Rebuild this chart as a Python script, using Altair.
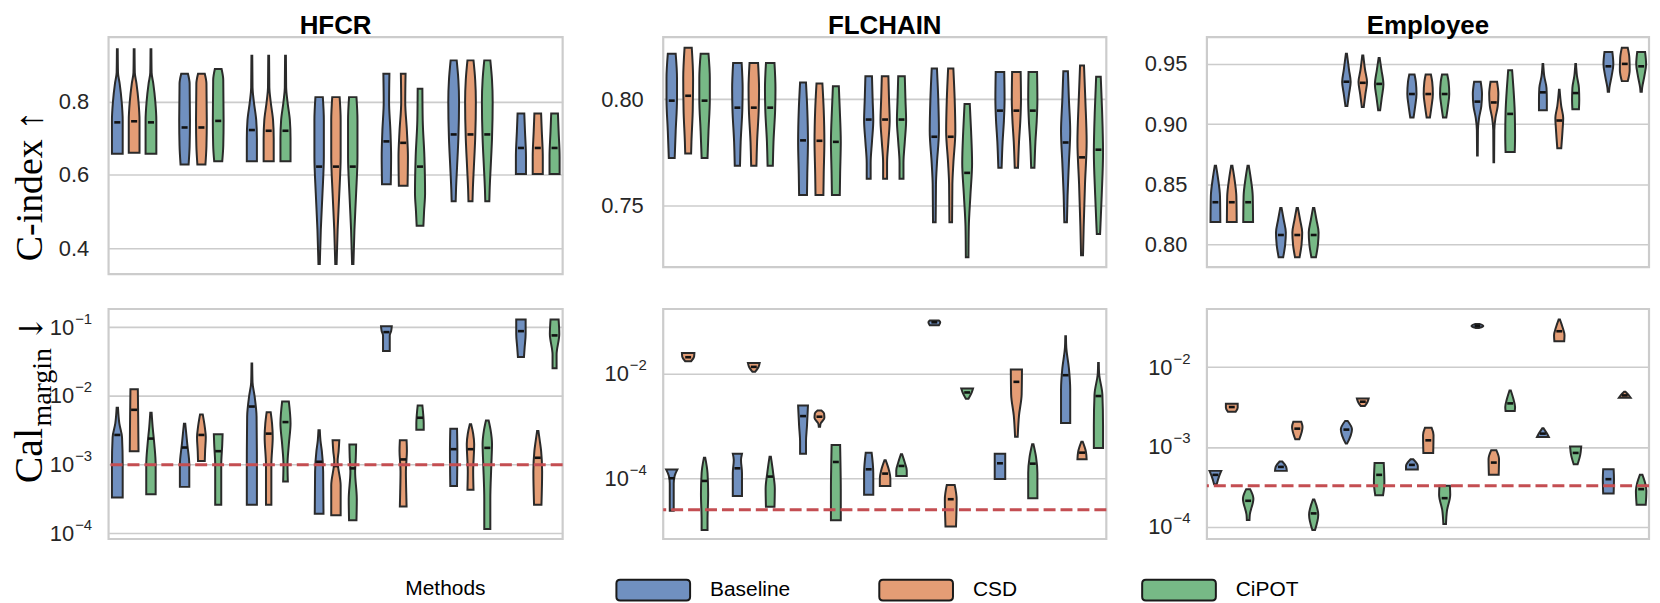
import altair as alt
import pandas as pd

METHODS = ["Baseline", "CSD", "CiPOT"]
COLORS = ["#7090C0", "#E49D75", "#77B986"]
DATASETS = ["HFCR", "FLCHAIN", "Employee"]

# Each violin outline: (value, half-width in group units) from top to bottom.
# Groups (7 per panel) x methods (Baseline, CSD, CiPOT).

# ---------------- C-index (top row) ----------------
HFCR_CINDEX = [
    [[(0.944, 0.006), (0.88, 0.01), (0.85, 0.035), (0.80, 0.065), (0.75, 0.08), (0.658, 0.08)],
     [(0.944, 0.006), (0.88, 0.01), (0.85, 0.035), (0.80, 0.065), (0.75, 0.08), (0.661, 0.08)],
     [(0.944, 0.006), (0.88, 0.01), (0.85, 0.035), (0.80, 0.065), (0.75, 0.08), (0.658, 0.08)]],
    [[(0.877, 0.05), (0.85, 0.075), (0.75, 0.08), (0.68, 0.075), (0.629, 0.06)],
     [(0.877, 0.05), (0.85, 0.075), (0.75, 0.08), (0.68, 0.075), (0.629, 0.06)],
     [(0.890, 0.05), (0.86, 0.075), (0.75, 0.08), (0.68, 0.075), (0.638, 0.06)]],
    [[(0.926, 0.006), (0.84, 0.01), (0.80, 0.03), (0.75, 0.065), (0.70, 0.075), (0.638, 0.075)],
     [(0.926, 0.006), (0.84, 0.01), (0.80, 0.03), (0.75, 0.065), (0.70, 0.075), (0.638, 0.075)],
     [(0.926, 0.006), (0.84, 0.01), (0.80, 0.03), (0.75, 0.065), (0.70, 0.075), (0.638, 0.075)]],
    [[(0.813, 0.055), (0.75, 0.07), (0.65, 0.07), (0.55, 0.05), (0.45, 0.025), (0.357, 0.01)],
     [(0.813, 0.055), (0.75, 0.07), (0.65, 0.07), (0.55, 0.05), (0.45, 0.025), (0.357, 0.01)],
     [(0.813, 0.055), (0.75, 0.07), (0.65, 0.07), (0.55, 0.05), (0.45, 0.025), (0.357, 0.01)]],
    [[(0.877, 0.045), (0.80, 0.04), (0.72, 0.06), (0.65, 0.07), (0.575, 0.065)],
     [(0.877, 0.035), (0.80, 0.03), (0.72, 0.055), (0.65, 0.07), (0.571, 0.065)],
     [(0.836, 0.035), (0.75, 0.04), (0.65, 0.065), (0.55, 0.075), (0.50, 0.06), (0.461, 0.05)]],
    [[(0.9135, 0.045), (0.86, 0.07), (0.80, 0.08), (0.70, 0.07), (0.62, 0.05), (0.56, 0.035), (0.528, 0.03)],
     [(0.9135, 0.045), (0.86, 0.07), (0.80, 0.08), (0.70, 0.07), (0.62, 0.05), (0.56, 0.035), (0.528, 0.03)],
     [(0.9135, 0.045), (0.86, 0.07), (0.80, 0.08), (0.70, 0.07), (0.62, 0.05), (0.56, 0.035), (0.528, 0.03)]],
    [[(0.768, 0.05), (0.72, 0.06), (0.65, 0.075), (0.603, 0.075)],
     [(0.768, 0.05), (0.72, 0.06), (0.65, 0.075), (0.603, 0.075)],
     [(0.768, 0.05), (0.72, 0.06), (0.65, 0.075), (0.603, 0.075)]],
]
HFCR_CINDEX_MEDIAN = [[0.744, 0.747, 0.744], [0.730, 0.730, 0.748], [0.723, 0.721, 0.721],
                      [0.623, 0.623, 0.623], [0.692, 0.688, 0.623], [0.711, 0.711, 0.711],
                      [0.674, 0.674, 0.674]]

FLCHAIN_CINDEX = [
    [[(0.8215, 0.06), (0.81, 0.08), (0.80, 0.08), (0.785, 0.06), (0.7724, 0.045)],
     [(0.8243, 0.055), (0.81, 0.075), (0.795, 0.07), (0.78, 0.05), (0.7745, 0.045)],
     [(0.8215, 0.06), (0.81, 0.08), (0.80, 0.08), (0.785, 0.06), (0.7724, 0.045)]],
    [[(0.8171, 0.065), (0.805, 0.08), (0.795, 0.075), (0.78, 0.05), (0.7687, 0.04)],
     [(0.8171, 0.065), (0.805, 0.08), (0.795, 0.075), (0.78, 0.05), (0.7687, 0.04)],
     [(0.8171, 0.065), (0.805, 0.08), (0.795, 0.075), (0.78, 0.05), (0.7687, 0.04)]],
    [[(0.8079, 0.045), (0.795, 0.065), (0.78, 0.075), (0.765, 0.065), (0.755, 0.06)],
     [(0.8075, 0.045), (0.795, 0.065), (0.78, 0.075), (0.765, 0.065), (0.755, 0.06)],
     [(0.8062, 0.045), (0.795, 0.06), (0.78, 0.075), (0.765, 0.065), (0.755, 0.06)]],
    [[(0.8109, 0.05), (0.80, 0.06), (0.79, 0.07), (0.78, 0.05), (0.77, 0.03), (0.7626, 0.03)],
     [(0.8109, 0.05), (0.80, 0.06), (0.79, 0.07), (0.78, 0.05), (0.77, 0.03), (0.7626, 0.03)],
     [(0.8109, 0.05), (0.80, 0.06), (0.79, 0.07), (0.78, 0.05), (0.77, 0.03), (0.7626, 0.03)]],
    [[(0.8145, 0.04), (0.80, 0.06), (0.785, 0.07), (0.77, 0.04), (0.76, 0.025), (0.7422, 0.02)],
     [(0.8145, 0.04), (0.80, 0.06), (0.785, 0.07), (0.77, 0.04), (0.76, 0.025), (0.7422, 0.02)],
     [(0.7978, 0.04), (0.785, 0.06), (0.77, 0.075), (0.755, 0.05), (0.74, 0.025), (0.7257, 0.02)]],
    [[(0.8129, 0.065), (0.80, 0.07), (0.79, 0.06), (0.78, 0.04), (0.7678, 0.025)],
     [(0.8129, 0.065), (0.80, 0.07), (0.79, 0.06), (0.78, 0.04), (0.7678, 0.025)],
     [(0.8129, 0.065), (0.80, 0.07), (0.79, 0.06), (0.78, 0.04), (0.7678, 0.025)]],
    [[(0.8132, 0.035), (0.80, 0.05), (0.785, 0.07), (0.77, 0.05), (0.755, 0.03), (0.7422, 0.02)],
     [(0.816, 0.03), (0.80, 0.05), (0.78, 0.07), (0.76, 0.045), (0.74, 0.025), (0.7266, 0.015)],
     [(0.8106, 0.035), (0.795, 0.055), (0.775, 0.07), (0.755, 0.05), (0.7366, 0.025)]],
]
FLCHAIN_CINDEX_MEDIAN = [[0.7994, 0.8017, 0.7994], [0.7961, 0.7961, 0.7961], [0.7807, 0.7805, 0.780],
                         [0.7905, 0.7905, 0.7905], [0.7824, 0.7824, 0.7654], [0.7947, 0.7947, 0.7947],
                         [0.7797, 0.7727, 0.7763]]

EMPLOYEE_CINDEX = [
    [[(0.8654, 0.01), (0.855, 0.04), (0.84, 0.07), (0.8187, 0.075)],
     [(0.8654, 0.01), (0.855, 0.04), (0.84, 0.07), (0.8187, 0.075)],
     [(0.8654, 0.01), (0.855, 0.04), (0.84, 0.07), (0.8187, 0.075)]],
    [[(0.8305, 0.01), (0.82, 0.045), (0.81, 0.075), (0.80, 0.065), (0.7896, 0.035)],
     [(0.8305, 0.01), (0.82, 0.045), (0.81, 0.075), (0.80, 0.065), (0.7896, 0.035)],
     [(0.8305, 0.01), (0.82, 0.045), (0.81, 0.075), (0.80, 0.065), (0.7896, 0.035)]],
    [[(0.9585, 0.008), (0.945, 0.04), (0.935, 0.065), (0.925, 0.04), (0.9151, 0.015)],
     [(0.957, 0.008), (0.945, 0.035), (0.935, 0.065), (0.925, 0.04), (0.9143, 0.015)],
     [(0.955, 0.008), (0.945, 0.035), (0.933, 0.065), (0.922, 0.04), (0.9115, 0.015)]],
    [[(0.9412, 0.04), (0.935, 0.06), (0.925, 0.07), (0.915, 0.05), (0.9055, 0.025)],
     [(0.9412, 0.04), (0.935, 0.06), (0.925, 0.07), (0.915, 0.05), (0.9055, 0.025)],
     [(0.9412, 0.04), (0.935, 0.06), (0.925, 0.07), (0.915, 0.05), (0.9055, 0.025)]],
    [[(0.9352, 0.05), (0.925, 0.07), (0.915, 0.06), (0.905, 0.025), (0.895, 0.008), (0.8739, 0.005)],
     [(0.9352, 0.05), (0.925, 0.07), (0.915, 0.06), (0.905, 0.025), (0.895, 0.008), (0.8684, 0.005)],
     [(0.9448, 0.03), (0.93, 0.05), (0.91, 0.07), (0.89, 0.075), (0.8769, 0.07)]],
    [[(0.95, 0.005), (0.94, 0.02), (0.93, 0.055), (0.92, 0.06), (0.9115, 0.06)],
     [(0.9286, 0.005), (0.915, 0.03), (0.905, 0.06), (0.895, 0.05), (0.88, 0.03)],
     [(0.95, 0.005), (0.94, 0.02), (0.93, 0.05), (0.92, 0.055), (0.9124, 0.05)]],
    [[(0.9599, 0.06), (0.95, 0.075), (0.94, 0.05), (0.93, 0.015), (0.9269, 0.01)],
     [(0.9635, 0.045), (0.955, 0.07), (0.945, 0.075), (0.9357, 0.045)],
     [(0.9599, 0.06), (0.95, 0.075), (0.94, 0.05), (0.93, 0.015), (0.9269, 0.01)]],
]
EMPLOYEE_CINDEX_MEDIAN = [[0.8352, 0.8352, 0.8352], [0.808, 0.808, 0.808], [0.9352, 0.9343, 0.9334],
                          [0.925, 0.925, 0.925], [0.9187, 0.918, 0.9085], [0.9264, 0.903, 0.9258],
                          [0.948, 0.95, 0.948]]

# ---------------- Cal_margin (bottom row), values given as log10 ----------------
HFCR_CAL_LOG10 = [
    [[(-2.173, 0.01), (-2.4, 0.03), (-2.6, 0.07), (-3.0, 0.08), (-3.476, 0.08)],
     [(-1.904, 0.055), (-2.3, 0.06), (-2.803, 0.065)],
     [(-2.245, 0.01), (-2.45, 0.025), (-2.7, 0.05), (-3.0, 0.07), (-3.428, 0.07)]],
    [[(-2.404, 0.01), (-2.55, 0.025), (-2.7, 0.04), (-3.0, 0.07), (-3.322, 0.07)],
     [(-2.269, 0.02), (-2.45, 0.05), (-2.6, 0.065), (-2.8, 0.055), (-2.947, 0.05)],
     [(-2.558, 0.065), (-2.7, 0.06), (-3.0, 0.045), (-3.582, 0.045)]],
    [[(-1.529, 0.005), (-1.8, 0.01), (-2.0, 0.04), (-2.3, 0.07), (-3.0, 0.075), (-3.582, 0.075)],
     [(-2.236, 0.03), (-2.4, 0.05), (-2.6, 0.06), (-3.0, 0.04), (-3.582, 0.04)],
     [(-2.082, 0.05), (-2.4, 0.075), (-2.7, 0.05), (-3.0, 0.03), (-3.245, 0.035)]],
    [[(-2.5, 0.01), (-2.65, 0.02), (-2.8, 0.04), (-3.1, 0.06), (-3.712, 0.065)],
     [(-2.644, 0.05), (-2.8, 0.04), (-2.95, 0.025), (-3.3, 0.07), (-3.736, 0.07)],
     [(-2.707, 0.05), (-2.9, 0.045), (-3.1, 0.035), (-3.5, 0.06), (-3.808, 0.055)]],
    [[(-0.986, 0.08), (-1.06, 0.07), (-1.12, 0.05), (-1.346, 0.05)],
     [(-2.644, 0.05), (-2.8, 0.055), (-3.1, 0.04), (-3.4, 0.045), (-3.606, 0.05)],
     [(-2.139, 0.035), (-2.3, 0.05), (-2.4, 0.055), (-2.49, 0.055)]],
    [[(-2.476, 0.05), (-2.8, 0.055), (-3.308, 0.05)],
     [(-2.413, 0.01), (-2.55, 0.04), (-2.7, 0.055), (-3.1, 0.04), (-3.365, 0.045)],
     [(-2.356, 0.02), (-2.5, 0.05), (-2.7, 0.07), (-3.0, 0.06), (-3.5, 0.045), (-3.933, 0.045)]],
    [[(-0.889, 0.07), (-1.1, 0.07), (-1.3, 0.055), (-1.433, 0.045)],
     [(-2.51, 0.01), (-2.65, 0.03), (-2.8, 0.05), (-3.1, 0.065), (-3.582, 0.055)],
     [(-0.889, 0.06), (-1.1, 0.07), (-1.4, 0.03), (-1.596, 0.03)]],
]
HFCR_CAL_MEDIAN_LOG10 = [[-2.567, -2.202, -2.62], [-2.75, -2.567, -2.803], [-2.154, -2.548, -2.38],
                         [-2.957, -3.019, -3.053], [-1.072, -2.923, -2.317], [-2.774, -2.774, -2.755],
                         [-1.058, -2.899, -1.12]]

FLCHAIN_CAL_LOG10 = [
    [[(-3.835, 0.085), (-3.95, 0.045), (-4.1, 0.03), (-4.622, 0.03)],
     [(-1.606, 0.095), (-1.68, 0.09), (-1.765, 0.045)],
     [(-3.606, 0.01), (-3.9, 0.045), (-4.3, 0.055), (-4.8, 0.045), (-4.99, 0.045)]],
    [[(-3.53, 0.07), (-3.65, 0.055), (-3.9, 0.07), (-4.337, 0.07)],
     [(-1.797, 0.09), (-1.88, 0.07), (-1.968, 0.02)],
     [(-3.587, 0.01), (-3.9, 0.045), (-4.2, 0.07), (-4.546, 0.065)]],
    [[(-2.61, 0.075), (-3.0, 0.06), (-3.3, 0.045), (-3.53, 0.045)],
     [(-2.705, 0.03), (-2.76, 0.07), (-2.85, 0.075), (-2.95, 0.02), (-3.016, 0.01)],
     [(-3.365, 0.065), (-3.7, 0.07), (-4.2, 0.075), (-4.8, 0.075)]],
    [[(-3.511, 0.045), (-3.9, 0.07), (-4.317, 0.07)],
     [(-3.657, 0.01), (-3.85, 0.06), (-4.0, 0.08), (-4.146, 0.08)],
     [(-3.543, 0.01), (-3.7, 0.05), (-3.85, 0.08), (-3.956, 0.08)]],
    [[(-0.99, 0.07), (-1.02, 0.09), (-1.079, 0.07)],
     [(-4.127, 0.06), (-4.4, 0.09), (-4.921, 0.08)],
     [(-2.286, 0.09), (-2.36, 0.07), (-2.483, 0.02)]],
    [[(-3.53, 0.08), (-3.7, 0.08), (-4.013, 0.08)],
     [(-1.924, 0.085), (-2.4, 0.08), (-2.8, 0.04), (-3.206, 0.02)],
     [(-3.352, 0.01), (-3.6, 0.05), (-3.9, 0.07), (-4.381, 0.07)]],
    [[(-1.289, 0.005), (-1.5, 0.01), (-1.9, 0.05), (-2.3, 0.07), (-2.946, 0.07)],
     [(-3.302, 0.01), (-3.5, 0.06), (-3.638, 0.07)],
     [(-1.8, 0.005), (-2.0, 0.01), (-2.4, 0.06), (-3.0, 0.07), (-3.42, 0.07)]],
]
FLCHAIN_CAL_MEDIAN_LOG10 = [[-4.0, -1.689, -4.051], [-3.81, -1.873, -3.968], [-2.813, -2.825, -3.689],
                            [-3.829, -3.911, -3.765], [-1.022, -4.4, -2.362], [-3.714, -2.159, -3.721],
                            [-2.032, -3.511, -2.43]]

EMPLOYEE_CAL_LOG10 = [
    [[(-3.3, 0.09), (-3.36, 0.06), (-3.467, 0.02)],
     [(-2.458, 0.09), (-2.51, 0.09), (-2.558, 0.06)],
     [(-3.529, 0.03), (-3.65, 0.08), (-3.85, 0.025), (-3.917, 0.02)]],
    [[(-3.183, 0.02), (-3.25, 0.08), (-3.3, 0.09)],
     [(-2.683, 0.06), (-2.75, 0.08), (-2.904, 0.03)],
     [(-3.658, 0.01), (-3.85, 0.07), (-4.042, 0.02)]],
    [[(-2.675, 0.02), (-2.78, 0.085), (-2.958, 0.01)],
     [(-2.392, 0.09), (-2.44, 0.07), (-2.488, 0.03)],
     [(-3.2, 0.07), (-3.45, 0.08), (-3.604, 0.06)]],
    [[(-3.154, 0.02), (-3.24, 0.09), (-3.283, 0.09)],
     [(-2.758, 0.05), (-2.85, 0.08), (-3.075, 0.075)],
     [(-3.4875, 0.08), (-3.6, 0.085), (-3.8, 0.035), (-3.967, 0.02)]],
    [[(-1.458, 0.03), (-1.483, 0.09), (-1.508, 0.03)],
     [(-3.042, 0.04), (-3.15, 0.08), (-3.35, 0.075)],
     [(-2.292, 0.01), (-2.4, 0.05), (-2.5, 0.075), (-2.55, 0.07)]],
    [[(-2.767, 0.01), (-2.83, 0.06), (-2.875, 0.09)],
     [(-1.404, 0.01), (-1.5, 0.05), (-1.6, 0.08), (-1.675, 0.075)],
     [(-2.996, 0.085), (-3.1, 0.07), (-3.217, 0.03)]],
    [[(-3.279, 0.08), (-3.4, 0.085), (-3.583, 0.08)],
     [(-2.308, 0.01), (-2.35, 0.06), (-2.383, 0.09)],
     [(-3.35, 0.02), (-3.45, 0.06), (-3.55, 0.08), (-3.725, 0.07)]],
]
EMPLOYEE_CAL_MEDIAN_LOG10 = [[-3.35, -2.5, -3.675], [-3.25, -2.771, -3.833], [-2.783, -2.433, -3.35],
                             [-3.225, -2.917, -3.642], [-1.483, -3.196, -2.454], [-2.833, -1.55, -3.075],
                             [-3.404, -2.354, -3.529]]

# Ideal calibration reference (dashed red line), log10
CAL_REFERENCE_LOG10 = {"HFCR": -3.0, "FLCHAIN": -4.603, "Employee": -3.4875}

CINDEX_TICKS = {"HFCR": [0.4, 0.6, 0.8], "FLCHAIN": [0.75, 0.80], "Employee": [0.80, 0.85, 0.90, 0.95]}
CAL_TICKS_LOG10 = {"HFCR": [-1, -2, -3, -4], "FLCHAIN": [-2, -4], "Employee": [-2, -3, -4]}

# axis ranges
CINDEX_DOMAIN = {"HFCR": [0.329, 0.977], "FLCHAIN": [0.721, 0.8293], "Employee": [0.7813, 0.9722]}
CAL_DOMAIN_LOG10 = {"HFCR": [-4.08, -0.736], "FLCHAIN": [-5.16, -0.768], "Employee": [-4.154, -1.271]}

WIDTHS = {"HFCR": 456, "FLCHAIN": 445, "Employee": 444}
TOP_HEIGHTS = {"HFCR": 238, "FLCHAIN": 231, "Employee": 231}
BOTTOM_HEIGHT = 231

LEGEND_PATH = ("M-0.9,-0.28L0.9,-0.28Q1,-0.28 1,-0.18L1,0.18Q1,0.28 0.9,0.28"
               "L-0.9,0.28Q-1,0.28 -1,0.18L-1,-0.18Q-1,-0.28 -0.9,-0.28Z")

LEGEND = alt.Legend(
    orient="none", legendX=298, legendY=517, direction="horizontal", columns=3,
    gridAlign="all", title="Methods", titleOrient="left", titleFontSize=21,
    titleFontWeight="normal", titleColor="#000000", titlePadding=130,
    titleBaseline="top",
    labelFontSize=21, labelColor="#000000", labelOffset=19, columnPadding=85,
    symbolType=LEGEND_PATH, symbolSize=5476, symbolStrokeColor="#1a1a1a",
    symbolStrokeWidth=2, symbolOpacity=1,
)

EXP_EXPR = ("datum.value > 0.05 ? '−1' : datum.value > 0.005 ? '−2' : "
            "datum.value > 0.0005 ? '−3' : '−4'")


def violin_frames(violins, medians, log):
    rows, mrows = [], []
    for g, trio in enumerate(violins):
        for m, knots in enumerate(trio):
            for v, w in knots:
                rows.append({"group": g, "mi": m, "method": METHODS[m],
                             "vid": f"{g}-{m}", "value": 10 ** v if log else v, "half": w})
            mv = medians[g][m]
            mrows.append({"group": g, "mi": m, "method": METHODS[m],
                          "median": 10 ** mv if log else mv})
    return pd.DataFrame(rows), pd.DataFrame(mrows)


def serif_text(txt, size, x, y, font="Liberation Serif"):
    return alt.Chart(pd.DataFrame({"t": [txt]})).mark_text(
        angle=270, align="left", baseline="alphabetic", font=font,
        fontSize=size, color="#000000").encode(text="t:N", x=alt.value(x), y=alt.value(y))


def panel(name, violins, medians, log, title=None):
    df, mdf = violin_frames(violins, medians, log)
    xscale = alt.Scale(domain=[-0.38, 6.37], nice=False, zero=False)
    if log:
        lo, hi = CAL_DOMAIN_LOG10[name]
        yscale = alt.Scale(type="log", domain=[10 ** lo, 10 ** hi], nice=False)
        ticks = [10 ** t for t in CAL_TICKS_LOG10[name]]
        # exponent labels (raised, small) next to the plot, base "10" to their left
        yaxis = alt.Axis(values=ticks, labelExpr=EXP_EXPR, title=None, orient="left",
                         labelFontSize=15, labelPadding=17, labelOffset=-9, grid=True)
        base_axis = alt.Axis(values=ticks, labelExpr="'10'", title=None, orient="left",
                             labelFontSize=22, labelPadding=35, grid=False)
        height = BOTTOM_HEIGHT
    else:
        yscale = alt.Scale(domain=CINDEX_DOMAIN[name], nice=False, zero=False)
        fmt = ".1f" if name == "HFCR" else ".2f"
        yaxis = alt.Axis(values=CINDEX_TICKS[name], format=fmt, title=None)
        base_axis = None
        height = TOP_HEIGHTS[name]

    color = alt.Color("method:N", scale=alt.Scale(domain=METHODS, range=COLORS), legend=LEGEND)

    area = alt.Chart(df).transform_calculate(
        c="datum.group + (datum.mi - 1) * 0.25",
        xl="datum.c - datum.half",
        xr="datum.c + datum.half",
    ).mark_area(orient="horizontal", interpolate="monotone", stroke="#2a2a2a",
                strokeWidth=2, fillOpacity=1).encode(
        x=alt.X("xl:Q", scale=xscale, axis=None),
        x2="xr:Q",
        y=alt.Y("value:Q", scale=yscale, axis=yaxis),
        color=color,
        detail="vid:N",
    )

    med = alt.Chart(mdf).transform_calculate(
        c="datum.group + (datum.mi - 1) * 0.25",
        ml="datum.c - 0.045",
        mr="datum.c + 0.045",
    ).mark_rule(color="#111111", strokeWidth=2.6).encode(
        x=alt.X("ml:Q", scale=xscale, axis=None),
        x2="mr:Q",
        y=alt.Y("median:Q", scale=yscale, axis=None if log else yaxis),
    )
    layers = [area, med]
    if log:
        rdf = pd.DataFrame({"ref": [10 ** CAL_REFERENCE_LOG10[name]]})
        layers.append(alt.Chart(rdf).mark_rule(color="#C44E52", strokeDash=[12, 5],
                                               strokeWidth=3).encode(
            y=alt.Y("ref:Q", scale=yscale, axis=base_axis)))
    if name == "HFCR" and not log:
        layers.append(serif_text("C-index ↑", 38, -67, 225))
    if name == "HFCR" and log:
        layers.append(serif_text("Cal", 40, -67, 175))
        layers.append(serif_text("margin", 28, -58, 118))
        layers.append(serif_text("↓", 32, -67, 33, font="DejaVu Serif"))

    ch = alt.layer(*layers).properties(width=WIDTHS[name], height=height)
    if log:
        ch = ch.resolve_scale(y="independent").resolve_axis(y="independent")
    if title:
        ch = ch.properties(title=alt.TitleParams(title, fontSize=26, fontWeight="bold",
                                                 font="Liberation Sans", offset=-2,
                                                 color="#000000"))
    return ch


top = [panel("HFCR", HFCR_CINDEX, HFCR_CINDEX_MEDIAN, False, "HFCR"),
       panel("FLCHAIN", FLCHAIN_CINDEX, FLCHAIN_CINDEX_MEDIAN, False, "FLCHAIN"),
       panel("Employee", EMPLOYEE_CINDEX, EMPLOYEE_CINDEX_MEDIAN, False, "Employee")]
bottom = [panel("HFCR", HFCR_CAL_LOG10, HFCR_CAL_MEDIAN_LOG10, True),
          panel("FLCHAIN", FLCHAIN_CAL_LOG10, FLCHAIN_CAL_MEDIAN_LOG10, True),
          panel("Employee", EMPLOYEE_CAL_LOG10, EMPLOYEE_CAL_MEDIAN_LOG10, True)]

chart = alt.concat(*top, *bottom, columns=3, spacing={"row": 35, "column": 101},
                   align="each", bounds="flush").resolve_scale(
    x="independent", y="independent", color="shared"
).configure(font="Liberation Sans", padding={"top": 2, "left": 0, "right": 0, "bottom": 0}
).configure_view(stroke="#cccccc", strokeWidth=2.2
).configure_axis(
    grid=True, gridColor="#cccccc", gridWidth=1.6, domain=False, ticks=False,
    labelPadding=20, labelFontSize=22, labelFont="Liberation Sans", labelColor="#262626",
)

chart.save("out.html", embed_options={"renderer": "svg", "actions": False})
